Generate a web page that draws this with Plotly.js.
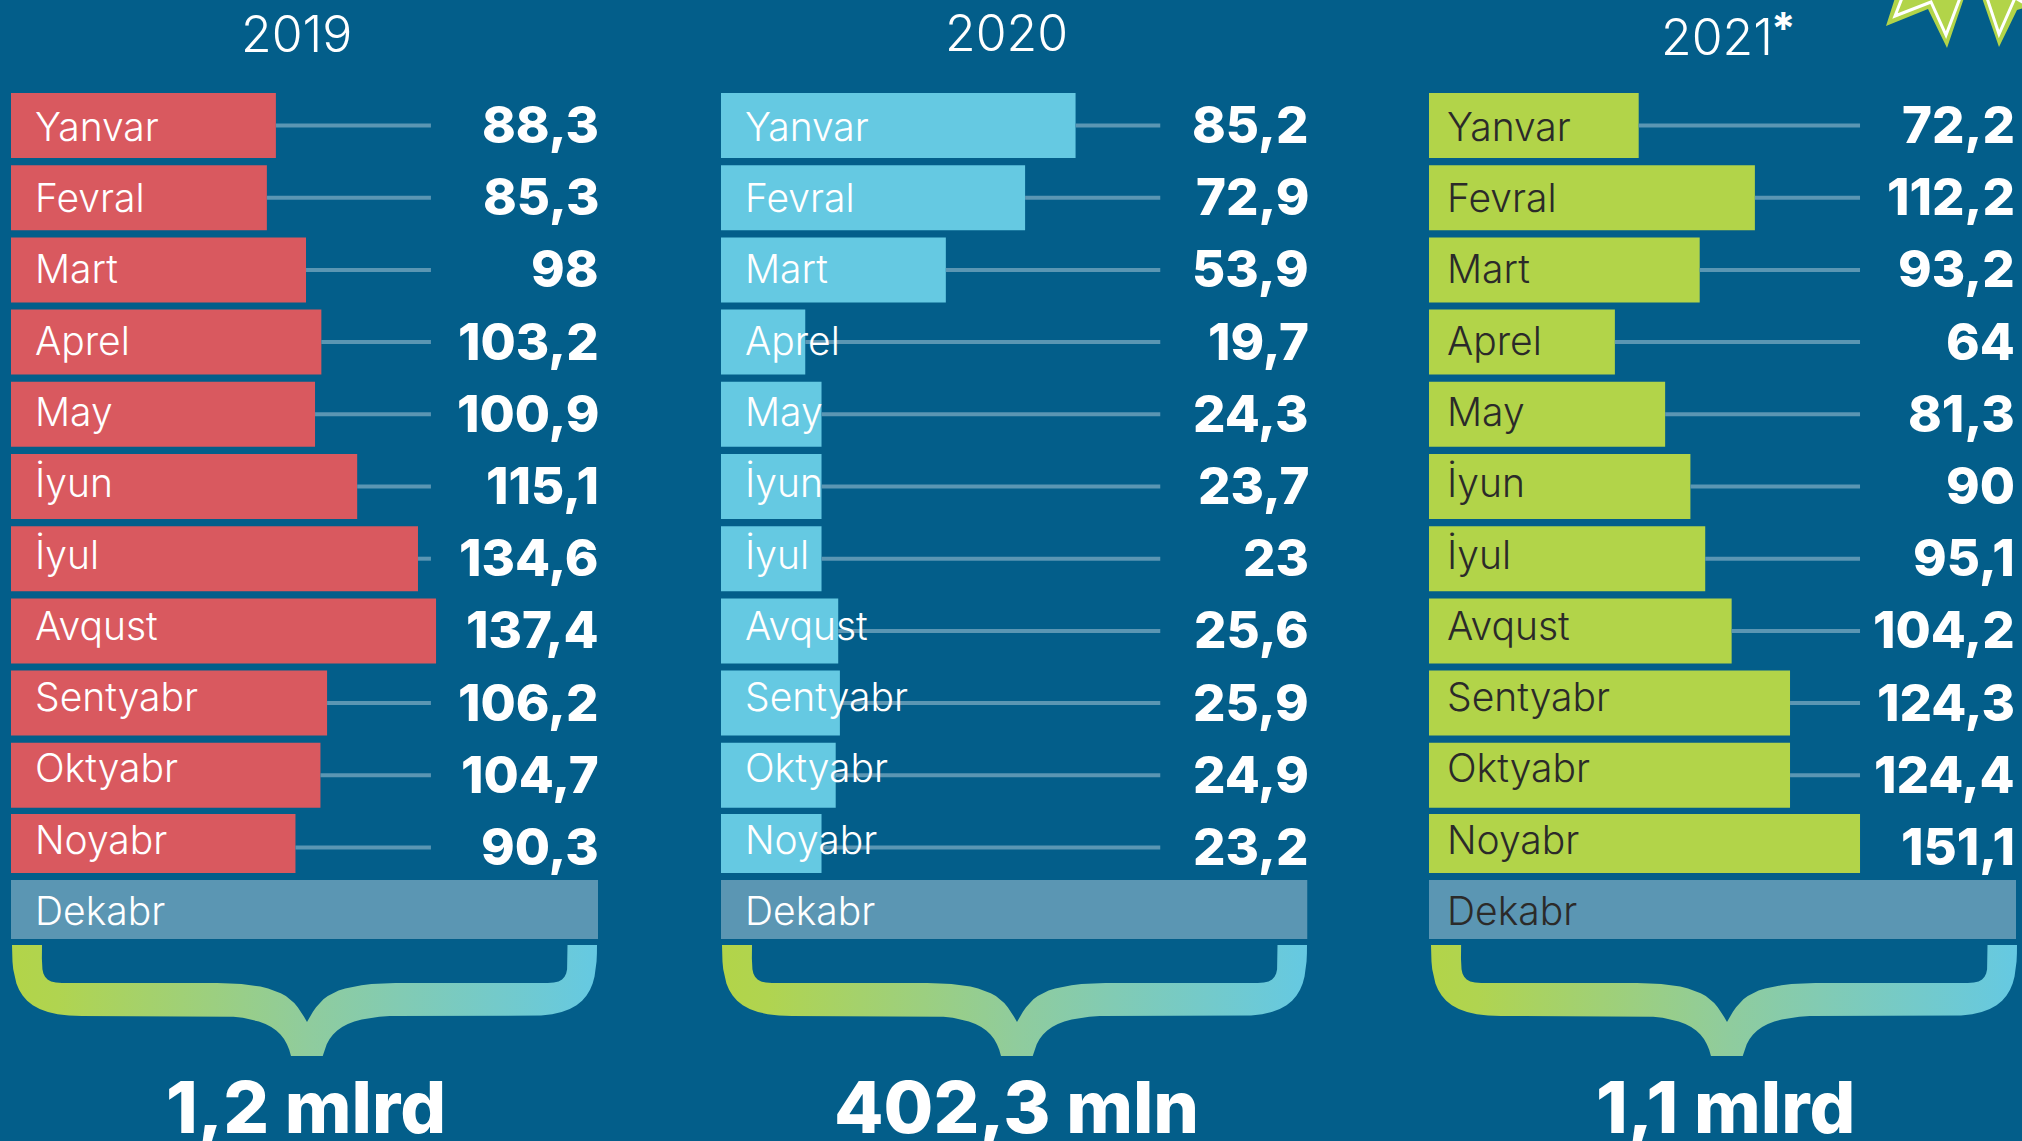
<!DOCTYPE html>
<html>
<head>
<meta charset="utf-8">
<script src="https://cdn.plot.ly/plotly-3.0.0.min.js"></script>
<style>html,body{margin:0;padding:0;background:#035e8a;overflow:hidden}#chart{width:2022px;height:1141px}</style>
</head>
<body>
<div id="chart"></div>
<script>
// Data
const months = ["Yanvar","Fevral","Mart","Aprel","May","İyun","İyul","Avqust","Sentyabr","Oktyabr","Noyabr","Dekabr"];
const years = ["2019","2020","2021"];
const totals = ["1,2 mlrd","402,3 mln","1,1 mlrd"];
// Printed values
const labels2019 = ["88,3","85,3","98","103,2","100,9","115,1","134,6","137,4","106,2","104,7","90,3"];
const labels2020 = ["85,2","72,9","53,9","19,7","24,3","23,7","23","25,6","25,9","24,9","23,2"];
const labels2021 = ["72,2","112,2","93,2","64","81,3","90","95,1","104,2","124,3","124,4","151,1"];
// Bar lengths as actually drawn in the reference, in the same units (the artwork is not exact)
const bars2019 = [88.0,85.0,98.0,103.1,101.0,115.0,135.2,141.2,105.0,102.8,94.5];
const bars2020 = [85.0,72.9,53.9,20.2,24.1,24.1,24.1,28.1,28.5,27.5,24.1];
const bars2021 = [72.2,112.2,93.2,64.0,81.3,90.0,95.1,104.2,124.3,124.3,148.4];

const BG = "#035e8a", GREY = "#5b96b3", WHITE = "#ffffff", DARK = "#2b2a29";
const panels = [
  {xa:"x",  l:11,   r:598,  max:195.0, lead:139.5, color:"#d9595f", text:WHITE, bars:bars2019, labels:labels2019, titleX:296,  titleY:34, totalX:306,  brace:[12,307,597]},
  {xa:"x2", l:721,  r:1307.5,max:140.6, lead:105.3, color:"#65c9e2", text:WHITE, bars:bars2020, labels:labels2020, titleX:1006, titleY:33, totalX:1016, brace:[722,1017,1307]},
  {xa:"x3", l:1429, r:2016, max:202.1, lead:148.4, color:"#b2d449", text:DARK,  bars:bars2021, labels:labels2021, titleX:1717, titleY:37, totalX:1725, brace:[1431,1727,2017]}
];
const FONT = "Inter, 'Open Sans', sans-serif";
const W = 2022, H = 1141;

// Brace outline: sampled cubic segments for the left half, mirrored for the right
function cubic(p0,p1,p2,p3,n){const o=[];for(let i=1;i<=n;i++){const t=i/n,u=1-t;
  o.push([u*u*u*p0[0]+3*u*u*t*p1[0]+3*u*t*t*p2[0]+t*t*t*p3[0],u*u*u*p0[1]+3*u*u*t*p1[1]+3*u*t*t*p2[1]+t*t*t*p3[1]]);}return o;}
function braceTrace(b){
  const [L,C,R]=b; const top=945, bot=1056;
  const half=(hw)=>{const s=hw/295;const P=(d,y)=>[d*s,y];
    let pts=[P(295,top)];
    pts=pts.concat(cubic(P(295,top),P(295,985),P(290,1016),P(225,1016),14));
    pts.push(P(84,1016));
    pts=pts.concat(cubic(P(84,1016),P(40,1018),P(22,1030),P(16,bot),12));
    return pts;};
  const halfInner=(hw)=>{const s=hw/295;const P=(d,y)=>[d*s,y];
    let pts=[P(0,1022)];
    pts=pts.concat(cubic(P(0,1022),P(14,996),P(26,984),P(90,983),14));
    pts.push(P(245,983));
    pts=pts.concat(cubic(P(245,983),P(268,983),P(265,970),P(265,945),10));
    return pts;};
  const hl=C-L, hr=R-C;
  const xs=[],ys=[];
  half(hl).forEach(p=>{xs.push(C-p[0]);ys.push(p[1]);});
  half(hr).reverse().forEach(p=>{xs.push(C+p[0]);ys.push(p[1]);});
  halfInner(hr).reverse().forEach(p=>{xs.push(C+p[0]);ys.push(p[1]);});
  halfInner(hl).forEach(p=>{xs.push(C-p[0]);ys.push(p[1]);});
  xs.push(xs[0]);ys.push(ys[0]);
  return {type:"scatter",mode:"lines",x:xs,y:ys,xaxis:"x4",yaxis:"y2",fill:"toself",hoverinfo:"skip",showlegend:false,
    line:{width:0,color:"rgba(0,0,0,0)"},
    fillgradient:{type:"horizontal",colorscale:[[0,"#b2d449"],[0.08,"#b0d450"],[0.5,"#90cc9c"],[1,"#65c9e2"]]}};
}

const traces=[], annotations=[];
panels.forEach((p,k)=>{
  const n=months.length;
  const vals=p.bars.concat([p.max]);
  traces.push({type:"bar",orientation:"h",y:months,x:vals,xaxis:p.xa,yaxis:"y",hoverinfo:"x+y",showlegend:false,
    marker:{color:vals.map((v,i)=>i===n-1?GREY:p.color),line:{width:0}},
    offset:months.map((m,i)=>i===n-1?-0.55:(i===n-2?-0.464:-0.45)),
    width:months.map((m,i)=>i>=n-2?0.817:0.9)});
  const lx=[],ly=[];
  p.bars.forEach((v,i)=>{ if(v<p.lead){lx.push(v,p.lead,null);ly.push(months[i],months[i],null);} });
  traces.push({type:"scatter",mode:"lines",x:lx,y:ly,xaxis:p.xa,yaxis:"y",hoverinfo:"skip",showlegend:false,connectgaps:false,
    line:{color:GREY,width:4}});
  months.forEach((m,i)=>{
    annotations.push({xref:p.xa,yref:"y",x:0,y:m,text:m,showarrow:false,xanchor:"left",yanchor:"middle",
      xshift:22-(k==2?6:0),yshift:i*0.95-1,font:{family:FONT,size:39,weight:300,color:p.text}});
  });
  p.labels.forEach((t,i)=>{
    annotations.push({xref:p.xa,yref:"y",x:p.max,y:months[i],text:t,showarrow:false,xanchor:"right",yanchor:"middle",
      xshift:k==2?1:3,yshift:1,font:{family:FONT,size:51,weight:800,color:WHITE}});
  });
  annotations.push({xref:"x4",yref:"y2",x:p.titleX,y:p.titleY,text:years[k],showarrow:false,xanchor:"center",yanchor:"middle",
    font:{family:FONT,size:50,weight:300,color:WHITE}});
  annotations.push({xref:"x4",yref:"y2",x:p.totalX,y:1106,text:totals[k],showarrow:false,xanchor:"center",yanchor:"middle",
    font:{family:FONT,size:72,weight:800,color:WHITE}});
  traces.push(braceTrace(p.brace));
});
annotations.push({xref:"x4",yref:"y2",x:1783,y:28,text:"*",showarrow:false,xanchor:"center",yanchor:"middle",
  font:{family:FONT,size:44,weight:700,color:WHITE}});

const shapes=[
  {type:"path",xref:"x4",yref:"y2",layer:"above",line:{width:0},fillcolor:"#b2d449",
   path:"M1895,-2 L1886,26 L1928,9 L1947,48 L1964,-2 Z"},
  {type:"path",xref:"x4",yref:"y2",layer:"above",line:{width:0},fillcolor:"#b2d449",
   path:"M1982,-2 L1999,47 L2017,10 L2024,8 L2024,-2 Z"},
  {type:"path",xref:"x4",yref:"y2",layer:"above",line:{width:3,color:WHITE},
   path:"M1902,-2 L1895,16 L1931,2 L1946,35 L1960,-2"},
  {type:"path",xref:"x4",yref:"y2",layer:"above",line:{width:3,color:WHITE},
   path:"M1987,-2 L1999,34 L2015,-2"},
  {type:"path",xref:"x4",yref:"y2",layer:"above",line:{width:3,color:WHITE},
   path:"M2017,-1 L2024,3"}
];

const hidden={visible:false,fixedrange:true};
const layout={
  width:W,height:H,margin:{l:0,r:0,t:0,b:0,pad:0},paper_bgcolor:BG,plot_bgcolor:"rgba(0,0,0,0)",showlegend:false,
  barmode:"overlay",
  xaxis:Object.assign({},hidden,{domain:[panels[0].l/W,panels[0].r/W],range:[0,panels[0].max],anchor:"y"}),
  xaxis2:Object.assign({},hidden,{domain:[panels[1].l/W,panels[1].r/W],range:[0,panels[1].max],anchor:"y"}),
  xaxis3:Object.assign({},hidden,{domain:[panels[2].l/W,panels[2].r/W],range:[0,panels[2].max],anchor:"y"}),
  xaxis4:Object.assign({},hidden,{domain:[0,1],range:[0,W],anchor:"y2"}),
  yaxis:Object.assign({},hidden,{domain:[0,1],type:"category",categoryorder:"array",categoryarray:months,range:[14.065,-1.738],anchor:"x"}),
  yaxis2:Object.assign({},hidden,{domain:[0,1],range:[H,0],anchor:"x4"}),
  annotations:annotations,shapes:shapes
};
Plotly.newPlot("chart",traces,layout,{displayModeBar:false,staticPlot:true});
</script>
</body>
</html>
